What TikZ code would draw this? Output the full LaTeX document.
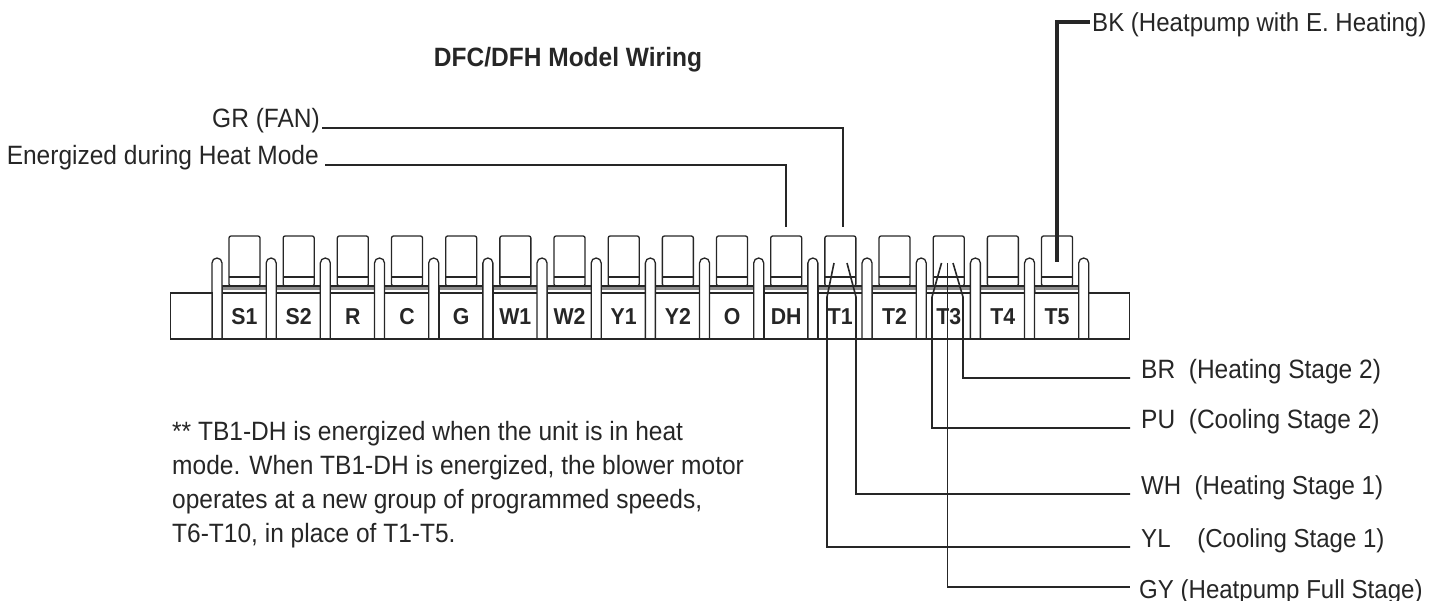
\documentclass[tikz,border=0pt]{standalone}
\usepackage{fontspec}
\setmainfont[FakeStretch=0.925]{Liberation Sans}
\usetikzlibrary{positioning}

\begin{document}
\begin{tikzpicture}[x=1pt, y=-1pt, node distance = 0pt and 0pt]
\tikzstyle{termbox} = [rectangle, draw = black!85, line width = 1.3pt, outer sep = 0pt, minimum width = 44.5pt, minimum height = 46pt, inner sep = 0pt, text height = 16.5pt, text depth = 0pt, font = \fontsize{23}{23}\selectfont\bfseries, text = black!85]
\tikzstyle{barbox} = [rectangle, draw = black!85, fill = black!45, line width = 1.3pt, outer sep = 0pt, minimum width = 44.5pt, minimum height = 7pt, inner sep = 0pt]
\tikzstyle{tabbox} = [rectangle, rounded corners = 2pt, draw = black!85, line width = 1.3pt, outer sep = 0pt, minimum width = 31pt, minimum height = 50pt, inner sep = 0pt]
\tikzstyle{sidebox} = [rectangle, draw = black!85, line width = 1.3pt, outer sep = 0pt, minimum width = 42pt, minimum height = 46pt, inner sep = 0pt]
\tikzstyle{post} = [draw = black!85, fill = white, line width = 1.3pt]
\tikzstyle{lbl} = [inner ysep = 0pt, inner xsep = 0pt, font = \fontsize{26.5}{26.5}\selectfont, text = black!85]
\tikzstyle{lblsmall} = [lbl, font = \fontsize{26}{26}\selectfont]
\tikzstyle{wire} = [draw = black!85, line width = 1.6pt]
\useasboundingbox (0,0) rectangle (1442,601);
  % terminal strip
  \foreach \name [count=\i from 0] in {S1,S2,R,C,G,W1,W2,Y1,Y2,O,DH,T1,T2,T3,T4,T5} {
    \node[termbox] (\name) at ({244.5+54.17*\i},316) {\name};
    \node[barbox, above=of \name] (bar\name) {};
    \draw[draw = white, line width = 1.4pt] (bar\name.south west) ++(0.7,-2) -- ++(43,0);
    \node[tabbox, above=of bar\name] (tab\name) {};
    \draw[draw = black!85, line width = 1.3pt] ([yshift=9pt]tab\name.south west) -- ([yshift=9pt]tab\name.south east);
  }
  \foreach \i in {0,...,16} {
    \draw[post] ({212+54.17*\i},339) -- ++(0,-76) arc[start angle=180, end angle=360, radius=5] -- ++(0,76);
  }
  \node[sidebox, left=10pt of S1.west] (endL) {};
  \node[sidebox, right=9pt of T5.east, minimum width = 41pt] (endR) {};
  \draw[draw = black!85, line width = 1.3pt] (endL.south west) -- (endR.south east);
  % labels
  \node[lbl, font = \fontsize{26.5}{26.5}\selectfont\bfseries] (title) at (568,60) {DFC/DFH Model Wiring};
  \node[lbl, anchor = base east, inner xsep = 2pt] (lblGR) at (322,128) {GR (FAN)};
  \node[lbl, anchor = base east, inner xsep = 6pt] (lblHeat) at (325,165) {Energized during Heat Mode};
  \node[lblsmall, anchor = west, inner xsep = 2pt, text height = 20pt, text depth = 0pt] (lblBK) at (1090,22) {BK (Heatpump with E. Heating)};
  \node[lbl, anchor = base west, inner xsep = 11pt] (lblBR) at (1130,378) {BR\ \ (Heating Stage 2)};
  \node[lbl, anchor = base west, inner xsep = 11pt] (lblPU) at (1130,428) {PU\ \ (Cooling Stage 2)};
  \node[lblsmall, anchor = base west, inner xsep = 11pt] (lblWH) at (1130,494) {WH\ \ (Heating Stage 1)};
  \node[lblsmall, anchor = base west, inner xsep = 11pt] (lblYL) at (1130,547) {YL\ \ \ \ (Cooling Stage 1)};
  \node[lblsmall, anchor = west, inner xsep = 9pt, text height = 22pt, text depth = 0pt] (lblGY) at (1130,587) {GY (Heatpump Full Stage)};
  \node[lbl, anchor = north west, align = left, font = \fontsize{26.5}{34}\selectfont] (note) at (172,421)
    {** TB1-DH is energized when the unit is in heat\\mode. When TB1-DH is energized, the blower motor\\operates at a new group of programmed speeds,\\T6-T10, in place of T1-T5.};
  % wires
  \coordinate (startYL) at (834,263);
  \coordinate (startWH) at (847,263);
  \coordinate (startPU) at (941.5,263);
  \coordinate (startGY) at (947.5,263);
  \coordinate (startBR) at (953,263);
  \coordinate (startBK) at (1057,262);
  \coordinate (startGR) at (843,227);
  \coordinate (startHeat) at (786,227);
  \draw[wire] (startHeat) |- (lblHeat.base east);
  \draw[wire] (startGR) |- (lblGR.base east);
  \draw[wire] (startYL) -- (827,297) |- (lblYL.base west);
  \draw[wire] (startWH) -- (856,297) |- (lblWH.base west);
  \draw[wire] (startPU) -- (932,297) |- (lblPU.base west);
  \draw[wire] (startGY) |- (lblGY.west);
  \draw[wire] (startBR) -- (963,297) |- (lblBR.base west);
  \draw[wire, line width = 3.5pt] (startBK) |- (lblBK.west);
\end{tikzpicture}
\end{document}
